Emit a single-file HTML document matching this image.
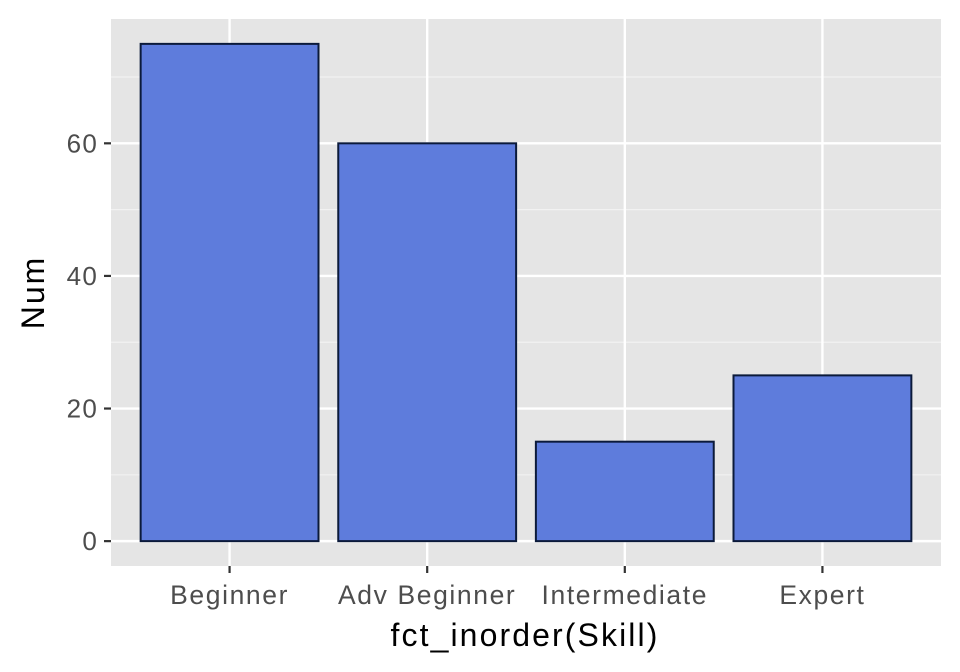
<!DOCTYPE html>
<html><head><meta charset="utf-8"><style>body{margin:0;background:#fff}svg{display:block;font-family:"Liberation Sans",Arial,sans-serif}</style></head>
<body>
<svg id="chart" width="960" height="672"></svg>
<script>
const categories = ["Beginner", "Adv Beginner", "Intermediate", "Expert"];
const values = [75, 60, 15, 25];
const yTicks = [0, 20, 40, 60];
const yMinor = [10, 30, 50, 70];
const svg = document.getElementById('chart');
const NS = 'http://www.w3.org/2000/svg';
const L = 111, R = 941, T = 19, B = 566;
const yMin = -3.75, yMax = 78.75;
const y = v => B - (v - yMin) / (yMax - yMin) * (B - T);
const band = (R - L) / (categories.length + 0.2);
const x = i => L + band * (i + 0.6);
function mk(tag, attrs, name, text) {
  const e = document.createElementNS(NS, tag);
  for (const k in attrs) e.setAttribute(k, attrs[k]);
  
  
  if (text !== undefined) e.textContent = text;
  svg.appendChild(e); return e;
}
mk('rect', {x: L, y: T, width: R - L, height: B - T, fill: '#e5e5e5'}, 'plot-panel');
yMinor.forEach(v => mk('line', {x1: L, x2: R, y1: y(v), y2: y(v), stroke: '#f2f2f2', 'stroke-width': 1.2}, 'minor-gridline'));
yTicks.forEach(v => mk('line', {x1: L, x2: R, y1: y(v), y2: y(v), stroke: '#fff', 'stroke-width': 2.4}, 'major-gridline'));
categories.forEach((c, i) => mk('line', {x1: x(i), x2: x(i), y1: T, y2: B, stroke: '#fff', 'stroke-width': 2.4}, 'x-gridline'));
const bw = band * 0.9;
values.forEach((v, i) => {
  mk('rect', {x: x(i) - bw / 2, y: y(v), width: bw, height: y(0) - y(v), fill: '#5e7cdc', stroke: '#0b1a3a', 'stroke-width': 2}, 'bar-' + categories[i].toLowerCase().replace(/ /g, '-'));
});
yTicks.forEach(v => {
  mk('line', {x1: L - 7, x2: L, y1: y(v), y2: y(v), stroke: '#333', 'stroke-width': 2.2}, 'y-tick');
  mk('text', {x: L - 13, y: y(v) + 9, 'text-anchor': 'end', 'font-size': 26, 'letter-spacing': 1.2, fill: '#4d4d4d'}, 'y-tick-label', v);
});
categories.forEach((c, i) => {
  mk('line', {x1: x(i), x2: x(i), y1: B, y2: B + 7, stroke: '#333', 'stroke-width': 2.2}, 'x-tick');
  mk('text', {x: x(i), y: B + 38, 'text-anchor': 'middle', 'font-size': 26.5, 'letter-spacing': 1.6, fill: '#4d4d4d'}, 'x-tick-label', c);
});
mk('text', {x: (L + R) / 2 - 1, y: 646, 'text-anchor': 'middle', 'font-size': 32, 'letter-spacing': 2.1, fill: '#000'}, 'x-axis-title', 'fct_inorder(Skill)');
mk('text', {x: 0, y: 0, 'text-anchor': 'middle', 'font-size': 32, 'letter-spacing': 2, fill: '#000', transform: `translate(44,${(T + B) / 2}) rotate(-90)`}, 'y-axis-title', 'Num');
</script>
</body></html>
